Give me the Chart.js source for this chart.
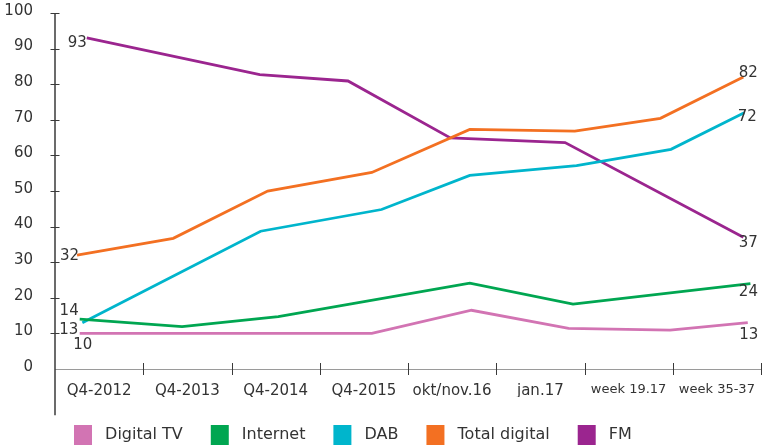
<!DOCTYPE html>
<html>
<head>
<meta charset="utf-8">
<script src="https://cdn.jsdelivr.net/npm/chart.js@4.4.0/dist/chart.umd.min.js"></script>
<style>
  html, body { margin: 0; padding: 0; background: #fff; }
  #wrap { width: 764px; height: 447px; }
</style>
</head>
<body>
<div id="wrap"><canvas id="c" width="764" height="447"></canvas></div>
<script>
// Survey periods shown along the bottom
const categories = ['Q4-2012', 'Q4-2013', 'Q4-2014', 'Q4-2015', 'okt/nov.16', 'jan.17', 'week 19.17', 'week 35-37'];

// Measurement points per platform: x in period units (0 = first period), y in %
const digitalTvX = [-0.22, 3.09, 4.22, 5.32, 6.47, 7.35];
const digitalTvY = [10, 10.0, 16.5, 11.4, 10.9, 13];

const internetX = [-0.22, 0.94, 2.03, 4.20, 5.37, 7.38];
const internetY = [14, 11.9, 14.7, 24.1, 18.2, 24];

const dabX = [-0.19, 1.83, 3.20, 4.20, 5.41, 6.48, 7.31];
const dabY = [13, 38.7, 44.8, 54.4, 57.1, 61.7, 72];

const totalDigitalX = [-0.25, 0.84, 1.91, 3.09, 4.20, 5.39, 6.36, 7.30];
const totalDigitalY = [32, 36.7, 50.0, 55.2, 67.3, 66.8, 70.4, 82];

const fmX = [-0.14, 1.82, 2.82, 3.98, 5.28, 7.30];
const fmY = [93, 82.7, 80.9, 64.9, 63.6, 37];

const yTickValues = [0, 10, 20, 30, 40, 50, 60, 70, 80, 90, 100];

const FONT = 'DejaVu Sans';
const TEXT = '#333333';
const AXIS_FLOOR = -13;   // the value axis line runs a little below zero

const pts = (xs, ys) => xs.map((x, i) => ({ x: x, y: ys[i] }));

function series(label, xs, ys, color, startLbl, endLbl) {
  return {
    label: label,
    data: pts(xs, ys),
    borderColor: color,
    backgroundColor: color,
    borderWidth: 2.8,
    pointRadius: 0,
    tension: 0,
    clip: false,
    xAxisID: 'xv',
    yAxisID: 'y',
    startLbl: startLbl,
    endLbl: endLbl
  };
}

// Value labels at the first and last point of every line
const endValueLabels = {
  id: 'endValueLabels',
  afterDatasetsDraw(chart) {
    const ctx = chart.ctx;
    ctx.save();
    ctx.fillStyle = TEXT;
    ctx.font = '15px "' + FONT + '"';
    ctx.textBaseline = 'middle';
    chart.data.datasets.forEach((ds, i) => {
      const meta = chart.getDatasetMeta(i);
      const first = meta.data[0];
      const last = meta.data[meta.data.length - 1];
      [[first, ds.data[0].y, ds.startLbl], [last, ds.data[ds.data.length - 1].y, ds.endLbl]].forEach(([p, v, o]) => {
        ctx.textAlign = o.align;
        ctx.fillText(String(Math.round(v)), p.x + o.dx, p.y + o.dy);
      });
    });
    ctx.restore();
  }
};

// Axis line and the small cross ticks on both axes
const axisMarks = {
  id: 'axisMarks',
  afterLayout(chart) {
    // let the value axis labels use the left margin as well
    chart.scales.y.left = 0;
  },
  afterDraw(chart) {
    const ctx = chart.ctx;
    const ys = chart.scales.y;
    const xs = chart.scales.xv;
    const axisX = chart.chartArea.left;
    const zeroY = ys.getPixelForValue(0);
    ctx.save();
    ctx.strokeStyle = '#3a3a3a';
    ctx.lineWidth = 1.5;
    ctx.beginPath();
    ctx.moveTo(axisX, ys.getPixelForValue(100));
    ctx.lineTo(axisX, ys.getPixelForValue(AXIS_FLOOR));
    ctx.stroke();
    ctx.lineWidth = 1;
    ctx.beginPath();
    yTickValues.forEach(v => {
      if (v === 0) return;
      const py = Math.round(ys.getPixelForValue(v)) + 0.5;
      ctx.moveTo(axisX - 4.5, py);
      ctx.lineTo(axisX + 4.5, py);
    });
    for (let i = 1; i <= categories.length; i++) {
      const px = Math.round(xs.getPixelForValue(i - 0.5)) + 0.5;
      ctx.moveTo(px, zeroY - 6);
      ctx.lineTo(px, zeroY + 6);
    }
    ctx.stroke();
    ctx.restore();
  }
};

new Chart(document.getElementById('c'), {
  type: 'line',
  data: {
    labels: categories,
    datasets: [
      series('Digital TV', digitalTvX, digitalTvY, '#d274b3',
        { dx: 3, dy: 12, align: 'center' }, { dx: 1, dy: 12, align: 'center' }),
      series('Internet', internetX, internetY, '#00a651',
        { dx: -1, dy: -8, align: 'right' }, { dx: -2, dy: 9, align: 'center' }),
      series('DAB', dabX, dabY, '#00b5cc',
        { dx: -4, dy: 7, align: 'right' }, { dx: 3, dy: 4, align: 'center' }),
      series('Total digital', totalDigitalX, totalDigitalY, '#f37022',
        { dx: 2, dy: 1, align: 'right' }, { dx: 5, dy: -4, align: 'center' }),
      series('FM', fmX, fmY, '#9b258f',
        { dx: 0, dy: 5, align: 'right' }, { dx: 5, dy: 6, align: 'center' })
    ]
  },
  options: {
    responsive: false,
    animation: false,
    events: [],
    layout: { padding: { top: 13, left: 46, right: 3, bottom: -8 } },
    scales: {
      x: {
        type: 'category',
        position: 'bottom',
        offset: true,
        afterFit: (s) => { s.height = 28; s.paddingLeft = 0; s.paddingRight = 0; },
        grid: { display: false, drawTicks: false, offset: true },
        border: { display: true, color: '#9a9a9a', dash: [4, 3], width: 1 },
        ticks: {
          color: TEXT,
          padding: 13,
          maxRotation: 0,
          autoSkip: false,
          font: (c) => ({ family: FONT, size: c.index >= 6 ? 13 : 15 })
        }
      },
      xv: {
        type: 'linear',
        display: false,
        min: -0.5,
        max: 7.5
      },
      y: {
        type: 'linear',
        min: 0,
        max: 100,
        afterBuildTicks: (s) => { s.ticks = yTickValues.map(v => ({ value: v })); },
        afterFit: (s) => { s.width = 9; s.paddingTop = 0; s.paddingBottom = 0; },
        grid: { display: false, drawTicks: false },
        border: { display: false },
        ticks: {
          color: TEXT,
          padding: 22,
          labelOffset: -2,
          font: { family: FONT, size: 15 }
        }
      }
    },
    plugins: {
      tooltip: { enabled: false },
      legend: {
        position: 'bottom',
        align: 'start',
        labels: {
          boxWidth: 18,
          boxHeight: 20,
          padding: 28,
          color: TEXT,
          font: { family: FONT, size: 16 },
          generateLabels: (chart) => chart.data.datasets.map((ds, i) => ({
            text: ' ' + ds.label,
            fillStyle: ds.borderColor,
            strokeStyle: ds.borderColor,
            lineWidth: 0,
            fontColor: TEXT,
            datasetIndex: i
          }))
        }
      }
    }
  },
  plugins: [endValueLabels, axisMarks]
});
</script>
</body>
</html>
